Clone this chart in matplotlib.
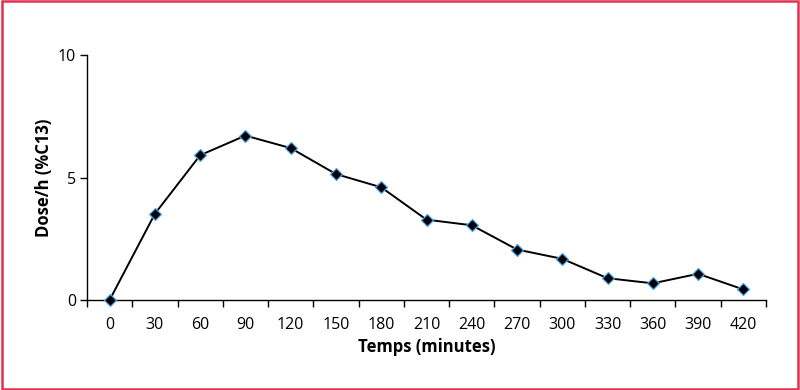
import matplotlib
matplotlib.use("Agg")
import matplotlib.pyplot as plt
from matplotlib.patches import Rectangle

times = ["0", "30", "60", "90", "120", "150", "180", "210", "240", "270", "300", "330", "360", "390", "420"]
dose = [0.0, 3.52, 5.91, 6.71, 6.2, 5.14, 4.6, 3.28, 3.05, 2.06, 1.68, 0.89, 0.68, 1.07, 0.43]
yticks = [0, 5, 10]

plt.rcParams['font.family'] = ['Open Sans', 'DejaVu Sans']

fig = plt.figure(figsize=(8, 3.9), dpi=100)
fig.patches.append(Rectangle((0.002, 0.003), 0.996, 0.994, transform=fig.transFigure,
                             fill=False, edgecolor='#e2304f', linewidth=1.8))
ax = fig.add_axes([87/800, 1 - 300/390, (766 - 87)/800, (300 - 55)/390])

x = list(range(len(times)))
ax.plot(x, dose, color='black', linewidth=1.4, marker='D', markersize=6,
        markerfacecolor='black', markeredgecolor='#4da6e8', markeredgewidth=0.9, zorder=3,
        clip_on=False)

ax.set_xlim(-0.5, len(times) - 0.5)
ax.set_ylim(0, 10)
ax.set_yticks(yticks)
ax.set_yticklabels([str(v) for v in yticks], fontsize=11.5)
ax.set_xticks([i - 0.5 for i in range(len(times) + 1)])
ax.set_xticklabels([])
ax.set_xticks(x, minor=True)
ax.set_xticklabels(times, minor=True, fontsize=11.5)
ax.tick_params(axis='x', which='major', direction='out', length=5, width=1)
ax.tick_params(axis='x', which='minor', length=0, pad=12)
ax.tick_params(axis='y', direction='out', length=5, width=1, pad=3)

for s in ['top', 'right']:
    ax.spines[s].set_visible(False)
for s in ['left', 'bottom']:
    ax.spines[s].set_linewidth(1)

ax.set_xlabel('Temps (minutes)', fontsize=12, fontweight='bold', labelpad=4)
ax.set_ylabel('Dose/h (%C13)', fontsize=12, fontweight='bold', labelpad=3)

fig.savefig('out.png', dpi=100)
